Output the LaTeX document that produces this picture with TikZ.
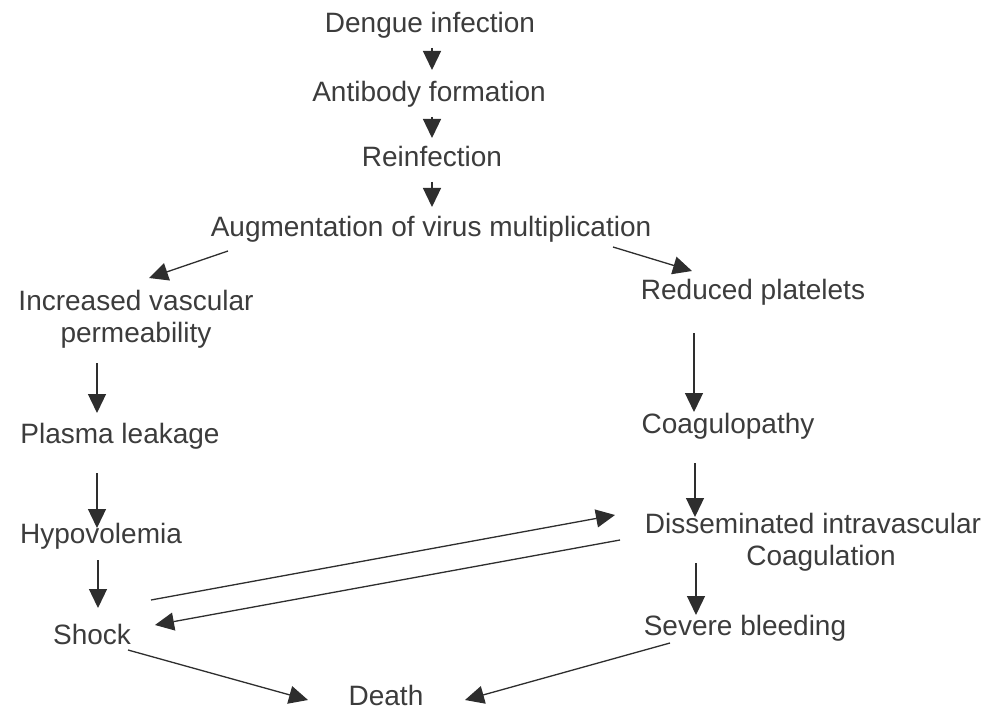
\documentclass[tikz,border=0pt]{standalone}
\usepackage{fontspec}
\setmainfont{Liberation Sans}
\usetikzlibrary{arrows.meta,calc}
\definecolor{txt}{HTML}{3C3C3C}
\definecolor{ln}{HTML}{2E2E2E}
\tikzset{
  lbl/.style={inner sep=0pt, anchor=base, text=txt, font=\fontsize{28}{32}\selectfont},
  arr/.style={draw=ln, line width=1.3pt, -{Triangle[width=18pt,length=19pt]}}
}
\begin{document}
\begin{tikzpicture}[x=1pt,y=-1pt]
\useasboundingbox[fill=white] (0,0) rectangle (1001,711);
% nodes
\node[lbl] (den)   at (430,33)  {Dengue infection};
\node[lbl] (anti)  at (429,102) {Antibody formation};
\node[lbl] (rein)  at (432,167) {Reinfection};
\node[lbl] (aug)   at (431,237) {Augmentation of virus multiplication};
\node[lbl] (ivp)   at (136,311) {\begin{tabular}[t]{@{}c@{}}Increased vascular\\ permeability\hspace{20pt}\end{tabular}};
\node[lbl] (pl)    at (120,443) {Plasma leakage};
\node[lbl] (hyp)   at (101,543) {Hypovolemia};
\node[lbl] (shock) at (92,644)  {Shock};
\node[lbl] (rp)    at (753,300) {Reduced platelets};
\node[lbl] (coag)  at (728,433) {Coagulopathy};
\node[lbl] (dic)   at (813,533) {\begin{tabular}[t]{@{}c@{}}Disseminated intravascular\\ \hspace{16pt}Coagulation\end{tabular}};
\node[lbl] (sev)   at (745,635) {Severe bleeding};
\node[lbl] (death) at (386,705) {Death};
% connectors
\draw[arr] ($(den.base)+(2,15)$) -- ($(anti.base)+(3,-32)$);
\draw[arr] ($(anti.base)+(3,15)$) -- ($(rein.base)+(0,-29)$);
\draw[arr] ($(rein.base)+(0,15)$) -- ($(aug.base)+(1,-30)$);
\draw[arr] ($(aug.base)+(-203,14)$) -- ($(ivp.base)+(13,-33)$);
\draw[arr] ($(aug.base)+(182,10)$) -- ($(rp.base)+(-61,-29)$);
\draw[arr] ($(ivp.base)+(-39,52)$) -- ($(pl.base)+(-23,-30)$);
\draw[arr] ($(pl.base)+(-23,30)$) -- ($(hyp.base)+(-4,-15)$);
\draw[arr] ($(hyp.base)+(-3,17)$) -- ($(shock.base)+(6,-36)$);
\draw[arr] ($(rp.base)+(-59,33)$) -- ($(coag.base)+(-34,-21)$);
\draw[arr] ($(coag.base)+(-33,30)$) -- ($(dic.base)+(-118,-16)$);
\draw[arr] ($(dic.base)+(-117,30)$) -- ($(sev.base)+(-49,-20)$);
\draw[arr] ($(shock.base)+(59,-44)$) -- ($(dic.base)+(-198,-18)$);
\draw[arr] ($(dic.base)+(-193,7)$) -- ($(shock.base)+(63,-19)$);
\draw[arr] ($(shock.base)+(36,6)$) -- ($(death.base)+(-78,-5)$);
\draw[arr] ($(sev.base)+(-75,8)$) -- ($(death.base)+(79,-5)$);
\end{tikzpicture}
\end{document}
